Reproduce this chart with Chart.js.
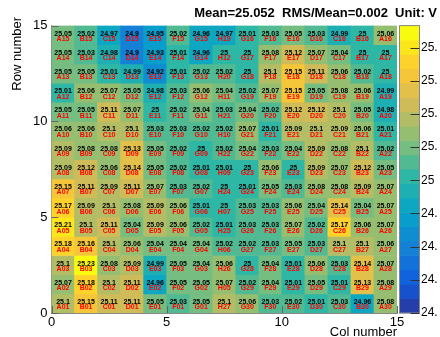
<!DOCTYPE html>
<html>
<head>
<meta charset="utf-8">
<script src="https://cdn.jsdelivr.net/npm/chart.js@4.4.1/dist/chart.umd.min.js"></script>
<style>
  html, body { margin: 0; padding: 0; background: #fff; }
</style>
</head>
<body>
<canvas id="myChart" width="440" height="337"></canvas>
<script>
// channel voltages, one array per row, row 0 at the bottom
var rowValues = [
  [25.1, 25.15, 25.11, 25.11, 25.05, 25.03, 25.05, 25.1, 25.06, 25.03, 25.02, 25.01, 25.03, 24.96, 25.08],
  [25.07, 25.18, 25.1, 25.11, 24.96, 25.05, 25.05, 25.07, 25.02, 25.04, 25.01, 25.05, 25.01, 25.13, 25.08],
  [25.1, 25.23, 25.08, 25.09, 24.99, 25.05, 25.04, 25.06, 25, 25.04, 25.01, 25.06, 25.03, 25.14, 25.07],
  [25.18, 25.16, 25.1, 25.06, 25.04, 25.04, 25.04, 25.02, 25.02, 25.03, 25.05, 25.03, 25.1, 25.1, 25.06],
  [25.21, 25.1, 25.11, 25.04, 25.09, 25.06, 25.02, 25.01, 25.03, 25.03, 25.07, 25.02, 25.17, 25.06, 25.07],
  [25.17, 25.09, 25.1, 25.08, 25.09, 25.06, 25.01, 25, 25.03, 25.03, 25.06, 25.04, 25.14, 25.04, 25.07],
  [25.15, 25.11, 25.09, 25.11, 25.07, 25.03, 25.02, 25, 25.01, 25.05, 25.03, 25.08, 25.08, 25.09, 25.07],
  [25.09, 25.12, 25.06, 25.14, 25.05, 25.02, 25.01, 25.01, 25, 25.06, 25, 25.09, 25.07, 25.12, 25.05],
  [25.09, 25.08, 25.08, 25.13, 25.05, 25.02, 25, 25.02, 25.04, 25.03, 25.04, 25.09, 25.08, 25.1, 25.02],
  [25.06, 25.06, 25.1, 25.1, 25.03, 25.03, 25.02, 25.02, 25.07, 25.01, 25.09, 25.1, 25.09, 25.06, 25.01],
  [25.05, 25.05, 25.11, 25.07, 25, 25.02, 25.04, 25.03, 25.04, 25.02, 25.12, 25.12, 25.1, 25.05, 24.98],
  [25.01, 25.06, 25.07, 25.05, 24.98, 25.03, 25.06, 25.04, 25.02, 25.07, 25.15, 25.05, 25.08, 25.06, 24.99],
  [25.05, 25.05, 25.01, 24.99, 24.92, 25.01, 25.02, 25.02, 25, 25.1, 25.15, 25.11, 25.06, 25.02, 25],
  [25.05, 25.03, 24.98, 24.9, 24.93, 25.01, 24.96, 25, 25, 25.08, 25.12, 25.07, 25.04, 25, 25],
  [25.05, 25.02, 24.97, 24.9, 24.95, 25.02, 24.96, 24.97, 25.01, 25.03, 25.05, 25.03, 24.99, 25, 25.06]
];

var rowLabels = [
  'A01 B01 C01 D01 E01 F01 G01 H27 G30 F30 E30 D30 C30 B30 A30',
  'A02 B02 C02 D02 E02 F02 G02 H05 G29 F29 E29 D29 C29 B29 A29',
  'A03 B03 C03 D03 E03 F03 G03 H26 G28 F28 E28 D28 C28 B28 A28',
  'A04 B04 C04 D04 E04 F04 G04 H06 G27 F27 E27 D27 C27 B27 A27',
  'A05 B05 C05 D05 E05 F05 G05 H25 G26 F26 E26 D26 C26 B26 A26',
  'A06 B06 C06 D06 E06 F06 G06 H07 G25 F25 E25 D25 C25 B25 A25',
  'A07 B07 C07 D07 E07 F07 G07 H24 G24 F24 E24 D24 C24 B24 A24',
  'A08 B08 C08 D08 E08 F08 G08 H09 G23 F23 E23 D23 C23 B23 A23',
  'A09 B09 C09 D09 E09 F09 G09 H22 G22 F22 E22 D22 C22 B22 A22',
  'A10 B10 C10 D10 E10 F10 G10 H10 G21 F21 E21 D21 C21 B21 A21',
  'A11 B11 C11 D11 E11 F11 G11 H21 G20 F20 E20 D20 C20 B20 A20',
  'A12 B12 C12 D12 E12 F12 G12 H11 G19 F19 E19 D19 C19 B19 A19',
  'A13 B13 C13 D13 E13 F13 G13 H20 G18 F18 E18 D18 C18 B18 A18',
  'A14 B14 C14 D14 E14 F14 G14 H12 G17 F17 E17 D17 C17 B17 A17',
  'A15 B15 C15 D15 E15 F15 G15 H19 G16 F16 E16 D16 C16 B16 A16'
].map(function(s) { return s.split(' '); });

var titleText = 'Mean=25.052  RMS/Mean=0.002  Unit: V';
var zMin = 24.8;
var zMax = 25.233;
var nContours = 20;

var fontFamily = "'Liberation Sans', Arial, Helvetica, sans-serif";

// ROOT kBird palette
var birdStops = [0.0, 0.125, 0.25, 0.375, 0.5, 0.625, 0.75, 0.875, 1.0];
var birdR = [0.2082, 0.0592, 0.0780, 0.0232, 0.1802, 0.5301, 0.8186, 0.9956, 0.9764];
var birdG = [0.1664, 0.3599, 0.5041, 0.6419, 0.7178, 0.7492, 0.7328, 0.7862, 0.9832];
var birdB = [0.5293, 0.8684, 0.8385, 0.7914, 0.6425, 0.4662, 0.3499, 0.1968, 0.0539];

function birdColor(f) {
  f = Math.max(0, Math.min(1, f));
  var i = 0;
  while (i < birdStops.length - 2 && f > birdStops[i + 1]) i++;
  var t = (f - birdStops[i]) / (birdStops[i + 1] - birdStops[i]);
  var r = birdR[i] + t * (birdR[i + 1] - birdR[i]);
  var g = birdG[i] + t * (birdG[i + 1] - birdG[i]);
  var b = birdB[i] + t * (birdB[i + 1] - birdB[i]);
  return 'rgb(' + Math.round(r * 255) + ',' + Math.round(g * 255) + ',' + Math.round(b * 255) + ')';
}

function levelColor(i) {
  return birdColor((i + 0.99) / nContours);
}

function cellColor(v) {
  var i = Math.floor((v - zMin) / (zMax - zMin) * nContours);
  i = Math.max(0, Math.min(nContours - 1, i));
  return levelColor(i);
}

var cells = [];
var cellColors = [];
var cellTexts = [];
rowValues.forEach(function(row, r) {
  row.forEach(function(v, c) {
    cells.push({ x: c + 0.5, y: [r, r + 1] });
    cellColors.push(cellColor(v));
    cellTexts.push([String(v), rowLabels[r][c]]);
  });
});

// keep the axes from reserving room for overhanging labels
function noOverhang(s) {
  s.paddingTop = 0;
  s.paddingBottom = 0;
  s.paddingLeft = 0;
  s.paddingRight = 0;
}

// cell texts, inward axis ticks, colour bar and axis titles
var heatmapExtras = {
  id: 'heatmapExtras',
  afterDatasetsDraw: function(chart) {
    var ctx = chart.ctx;
    var meta = chart.getDatasetMeta(0);
    ctx.save();
    ctx.textAlign = 'center';
    ctx.textBaseline = 'middle';
    ctx.font = 'bold 7px ' + fontFamily;
    meta.data.forEach(function(bar, i) {
      var cy = (bar.y + bar.base) / 2;
      ctx.fillStyle = '#000';
      ctx.fillText(cellTexts[i][0], bar.x, cy - 1.5);
      ctx.fillStyle = '#f00';
      ctx.fillText(cellTexts[i][1], bar.x, cy + 4);
    });
    ctx.restore();
  },
  afterDraw: function(chart) {
    var ctx = chart.ctx;
    var xs = chart.scales.x, ys = chart.scales.y, zs = chart.scales.z;
    var area = chart.chartArea;
    ctx.save();

    // major ticks pointing into the frame
    ctx.strokeStyle = '#666';
    ctx.lineWidth = 1;
    xs.ticks.forEach(function(t) {
      var px = Math.round(xs.getPixelForValue(t.value)) + 0.5;
      ctx.beginPath();
      ctx.moveTo(px, area.bottom);
      ctx.lineTo(px, area.bottom - 7);
      ctx.stroke();
    });
    ys.ticks.forEach(function(t) {
      var py = Math.round(ys.getPixelForValue(t.value)) + 0.5;
      ctx.beginPath();
      ctx.moveTo(area.left, py);
      ctx.lineTo(area.left + 7, py);
      ctx.stroke();
    });

    // colour bar
    var x0 = zs.left + 2.5, x1 = zs.left + 22.5;
    for (var i = 0; i < nContours; i++) {
      var lo = zMin + (zMax - zMin) * i / nContours;
      var hi = zMin + (zMax - zMin) * (i + 1) / nContours;
      var pLo = zs.getPixelForValue(lo), pHi = zs.getPixelForValue(hi);
      ctx.fillStyle = levelColor(i);
      ctx.fillRect(x0, pHi - 0.3, x1 - x0, pLo - pHi + 0.6);
    }
    ctx.strokeStyle = '#888';
    ctx.strokeRect(x0, zs.getPixelForValue(zMax), x1 - x0, zs.getPixelForValue(zMin) - zs.getPixelForValue(zMax));
    ctx.strokeStyle = '#333';
    zs.ticks.forEach(function(t) {
      var py = Math.round(zs.getPixelForValue(t.value)) + 0.5;
      ctx.beginPath();
      ctx.moveTo(x1 - 9, py);
      ctx.lineTo(x1, py);
      ctx.stroke();
    });

    // axis titles
    ctx.fillStyle = '#000';
    ctx.font = '13px ' + fontFamily;
    ctx.textBaseline = 'middle';
    ctx.textAlign = 'right';
    ctx.fillText('Col number', area.right, 332);
    ctx.translate(17, 17);
    ctx.rotate(-Math.PI / 2);
    ctx.fillText('Row number', 0, 0);
    ctx.restore();
  }
};

var tickFont = { family: fontFamily, size: 13 };

var ctx = document.getElementById('myChart').getContext('2d');
var myChart = new Chart(ctx, {
  type: 'bar',
  data: {
    datasets: [{
      data: cells,
      backgroundColor: cellColors,
      borderWidth: 0,
      barPercentage: 1,
      categoryPercentage: 1
    }]
  },
  options: {
    responsive: false,
    animation: false,
    events: [],
    layout: { padding: { right: 3 } },
    plugins: {
      legend: { display: false },
      tooltip: { enabled: false },
      title: {
        display: true,
        text: titleText,
        align: 'end',
        color: '#000',
        font: { family: fontFamily, size: 13, weight: 'bold' },
        padding: { top: 6, bottom: 4 }
      }
    },
    scales: {
      x: {
        type: 'linear',
        min: 0,
        max: 15,
        offset: false,
        grid: { display: false, drawTicks: false, offset: false },
        border: { display: true, color: '#888' },
        ticks: { stepSize: 5, color: '#000', font: tickFont, padding: 2, maxRotation: 0 },
        afterFit: function(s) { s.height = 24; noOverhang(s); }
      },
      y: {
        type: 'linear',
        min: 0,
        max: 15,
        grid: { display: false, drawTicks: false },
        border: { display: true, color: '#888' },
        ticks: { stepSize: 5, color: '#000', font: tickFont, padding: 4 },
        afterFit: function(s) { s.width = 51.5; noOverhang(s); }
      },
      z: {
        type: 'linear',
        position: 'right',
        min: zMin,
        max: zMax,
        grid: { display: false, drawTicks: false },
        border: { display: false },
        ticks: {
          stepSize: 0.05,
          includeBounds: false,
          autoSkip: false,
          color: '#000',
          font: { family: fontFamily, size: 12 },
          padding: 24,
          callback: function(v) { return String(Math.round(v * 100) / 100); }
        },
        afterFit: function(s) { s.width = 40; noOverhang(s); }
      }
    }
  },
  plugins: [heatmapExtras]
});
</script>
</body>
</html>
